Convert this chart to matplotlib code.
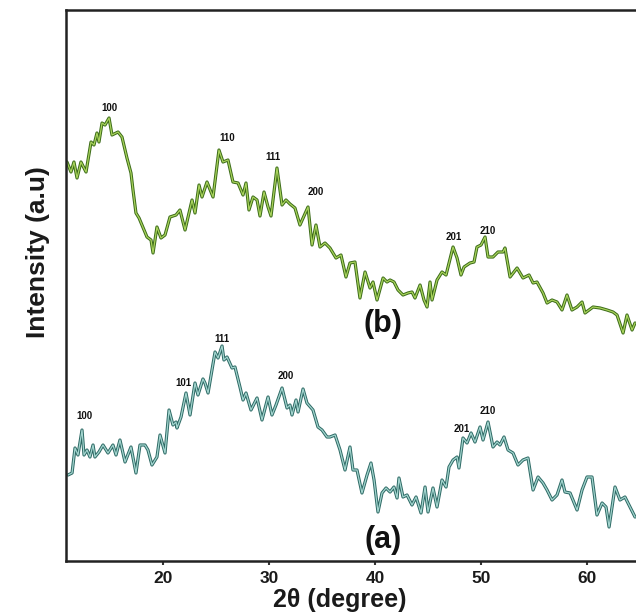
import numpy as np
import matplotlib.pyplot as plt

plt.rcParams['font.family'] = ['Liberation Sans', 'DejaVu Sans']

# (b) pattern, green
two_theta_b = [10.94, 11.32, 11.60, 11.89, 12.26, 12.74, 13.21, 13.49, 13.77, 13.96,
               14.25, 14.53, 14.91, 15.19, 15.76, 16.13, 16.60, 16.98, 17.17, 17.45,
               17.74, 18.02, 18.49, 18.87, 19.06, 19.43, 19.81, 20.19, 20.66, 21.23,
               21.60, 22.08, 22.74, 23.02, 23.40, 23.68, 24.15, 24.72, 25.28, 25.66,
               26.13, 26.60, 27.08, 27.55, 27.83, 28.11, 28.49, 28.87, 29.15, 29.53,
               29.91, 30.19, 30.75, 31.23, 31.60, 31.98, 32.45, 32.92, 33.68, 34.06,
               34.43, 34.81, 35.28, 35.75, 36.32, 36.79, 37.26, 37.64, 38.11, 38.58,
               39.06, 39.53, 39.81, 40.19, 40.76, 41.13, 41.42, 41.79, 42.17, 42.64,
               43.11, 43.49, 43.77, 44.25, 44.62, 44.91, 45.19, 45.38, 45.85, 46.32,
               46.70, 47.36, 47.74, 48.11, 48.40, 48.96, 49.34, 49.62, 50.00, 50.38,
               50.66, 51.13, 51.60, 52.08, 52.26, 52.74, 53.40, 53.96, 54.53, 54.91,
               55.28, 55.85, 56.23, 56.70, 57.17, 57.64, 58.11, 58.58, 59.06, 59.53,
               59.81, 60.57, 61.23, 61.89, 62.45, 62.83, 63.40, 63.77, 64.25, 64.53]
intensity_b = [452, 442, 452, 436, 452, 442, 472, 469, 481, 472,
               491, 489, 496, 479, 482, 477, 456, 441, 424, 401,
               396, 389, 377, 374, 361, 387, 376, 379, 397, 399,
               404, 384, 414, 401, 429, 417, 432, 417, 464, 452,
               454, 432, 431, 419, 431, 404, 417, 414, 398, 422,
               407, 398, 446, 409, 414, 410, 406, 389, 407, 369,
               389, 367, 371, 366, 356, 359, 337, 351, 352, 316,
               342, 326, 332, 314, 336, 332, 334, 332, 324, 319,
               321, 322, 316, 329, 314, 307, 332, 314, 334, 342,
               339, 367, 356, 339, 347, 351, 352, 367, 369, 377,
               357, 357, 362, 362, 366, 337, 346, 336, 339, 331,
               332, 321, 311, 314, 312, 304, 319, 304, 307, 312,
               301, 307, 306, 304, 302, 299, 281, 299, 284, 291]

# (a) pattern, teal
two_theta_a = [11.04, 11.42, 11.70, 11.98, 12.36, 12.55, 12.83, 13.11, 13.40, 13.58,
               13.96, 14.34, 14.81, 15.28, 15.57, 15.94, 16.42, 16.98, 17.45, 17.83,
               18.30, 18.58, 18.96, 19.43, 19.72, 20.19, 20.57, 20.94, 21.23, 21.32,
               21.70, 22.17, 22.55, 23.02, 23.30, 23.77, 23.96, 24.25, 24.91, 25.19,
               25.57, 25.75, 26.04, 26.51, 26.79, 27.26, 27.55, 27.83, 28.30, 28.87,
               29.34, 29.91, 30.28, 30.66, 31.23, 31.70, 31.98, 32.17, 32.55, 32.74,
               33.21, 33.58, 34.15, 34.62, 35.00, 35.47, 35.75, 36.23, 36.70, 37.17,
               37.64, 37.92, 38.30, 38.77, 39.25, 39.62, 39.91, 40.28, 40.66, 41.04,
               41.42, 41.79, 42.08, 42.26, 42.64, 43.02, 43.49, 43.87, 44.34, 44.72,
               45.00, 45.47, 45.85, 46.32, 46.70, 46.98, 47.36, 47.74, 47.92, 48.30,
               48.68, 49.06, 49.43, 49.91, 50.19, 50.66, 51.13, 51.51, 51.79, 52.17,
               52.55, 53.02, 53.49, 53.96, 54.43, 54.91, 55.38, 55.85, 56.23, 56.70,
               57.17, 57.64, 57.92, 58.40, 59.06, 59.53, 60.00, 60.47, 60.94, 61.42,
               61.79, 62.08, 62.64, 63.11, 63.58, 64.06, 64.53]
intensity_a = [139, 141, 166, 159, 184, 159, 164, 157, 169, 157,
               162, 169, 161, 169, 159, 174, 152, 167, 141, 169,
               169, 164, 149, 157, 179, 161, 204, 189, 192, 186,
               197, 221, 199, 231, 219, 235, 231, 221, 262, 256,
               268, 254, 257, 246, 247, 227, 214, 221, 204, 216,
               194, 217, 199, 209, 226, 206, 209, 199, 214, 202,
               225, 211, 204, 187, 184, 177, 177, 179, 164, 144,
               167, 144, 144, 121, 139, 151, 134, 102, 121, 126,
               122, 127, 116, 136, 117, 119, 109, 117, 101, 127,
               102, 126, 107, 134, 127, 147, 154, 157, 146, 176,
               171, 181, 172, 187, 174, 192, 167, 172, 169, 177,
               164, 161, 149, 154, 156, 124, 137, 131, 124, 114,
               119, 134, 122, 121, 104, 124, 137, 137, 99, 111,
               107, 87, 127, 114, 117, 107, 97]

# peak labels (hkl) and where they sit
hkl_b = ['100', '110', '111', '200', '201', '210']
hkl_b_x = [14.91, 26.04, 30.38, 34.43, 47.45, 50.66]
hkl_b_y = [506, 476, 457, 422, 377, 383]
hkl_a = ['100', '101', '111', '200', '201', '210']
hkl_a_x = [12.55, 21.89, 25.57, 31.60, 48.21, 50.66]
hkl_a_y = [198, 231, 275, 238, 185, 203]

xticks = [20, 30, 40, 50, 60]

fig = plt.figure(figsize=(6.36, 6.14), dpi=100)
ax = fig.add_axes([66 / 636, 53 / 614, 1 - 66 / 636, 551 / 614])

# dark outline underneath, light core on top
ax.plot(two_theta_b, intensity_b, color='#3b6b18', lw=2.3,
        solid_joinstyle='round', solid_capstyle='round')
ax.plot(two_theta_b, intensity_b, color='#a9d35c', lw=0.9, solid_joinstyle='round')
ax.plot(two_theta_a, intensity_a, color='#2d6964', lw=2.3,
        solid_joinstyle='round', solid_capstyle='round')
ax.plot(two_theta_a, intensity_a, color='#a3d5cf', lw=0.9, solid_joinstyle='round')

for t, x, y in zip(hkl_b, hkl_b_x, hkl_b_y):
    ax.text(x, y, t, ha='center', va='center', fontsize=7, fontweight='bold', color='#111')
for t, x, y in zip(hkl_a, hkl_a_x, hkl_a_y):
    ax.text(x, y, t, ha='center', va='center', fontsize=7, fontweight='bold', color='#111')

ax.text(40.76, 290, '(b)', ha='center', va='center', fontsize=22, fontweight='bold', color='#111')
ax.text(40.76, 74, '(a)', ha='center', va='center', fontsize=22, fontweight='bold', color='#111')

ax.set_xlim(10.85, 64.62)
ax.set_ylim(53, 604)
ax.set_xticks(xticks)
ax.set_xticklabels([str(v) for v in xticks], fontsize=12.5, fontweight='bold', color='#1a1a1a')
ax.set_yticks([])
ax.tick_params(axis='x', direction='out', length=3, width=1.5, pad=4, color='#333')
ax.spines['right'].set_visible(False)
for s in ['left', 'top', 'bottom']:
    ax.spines[s].set_linewidth(1.8)
    ax.spines[s].set_color('#222')

fig.text(340 / 636, 1 - 600 / 614, '2\u03b8 (degree)', ha='center', va='center',
         fontsize=18, fontweight='bold', color='#1a1a1a')
fig.text(38 / 636, 1 - 252 / 614, 'Intensity (a.u)', ha='center', va='center',
         rotation=90, fontsize=19, fontweight='bold', color='#1a1a1a')

fig.savefig('out.png', dpi=100)
